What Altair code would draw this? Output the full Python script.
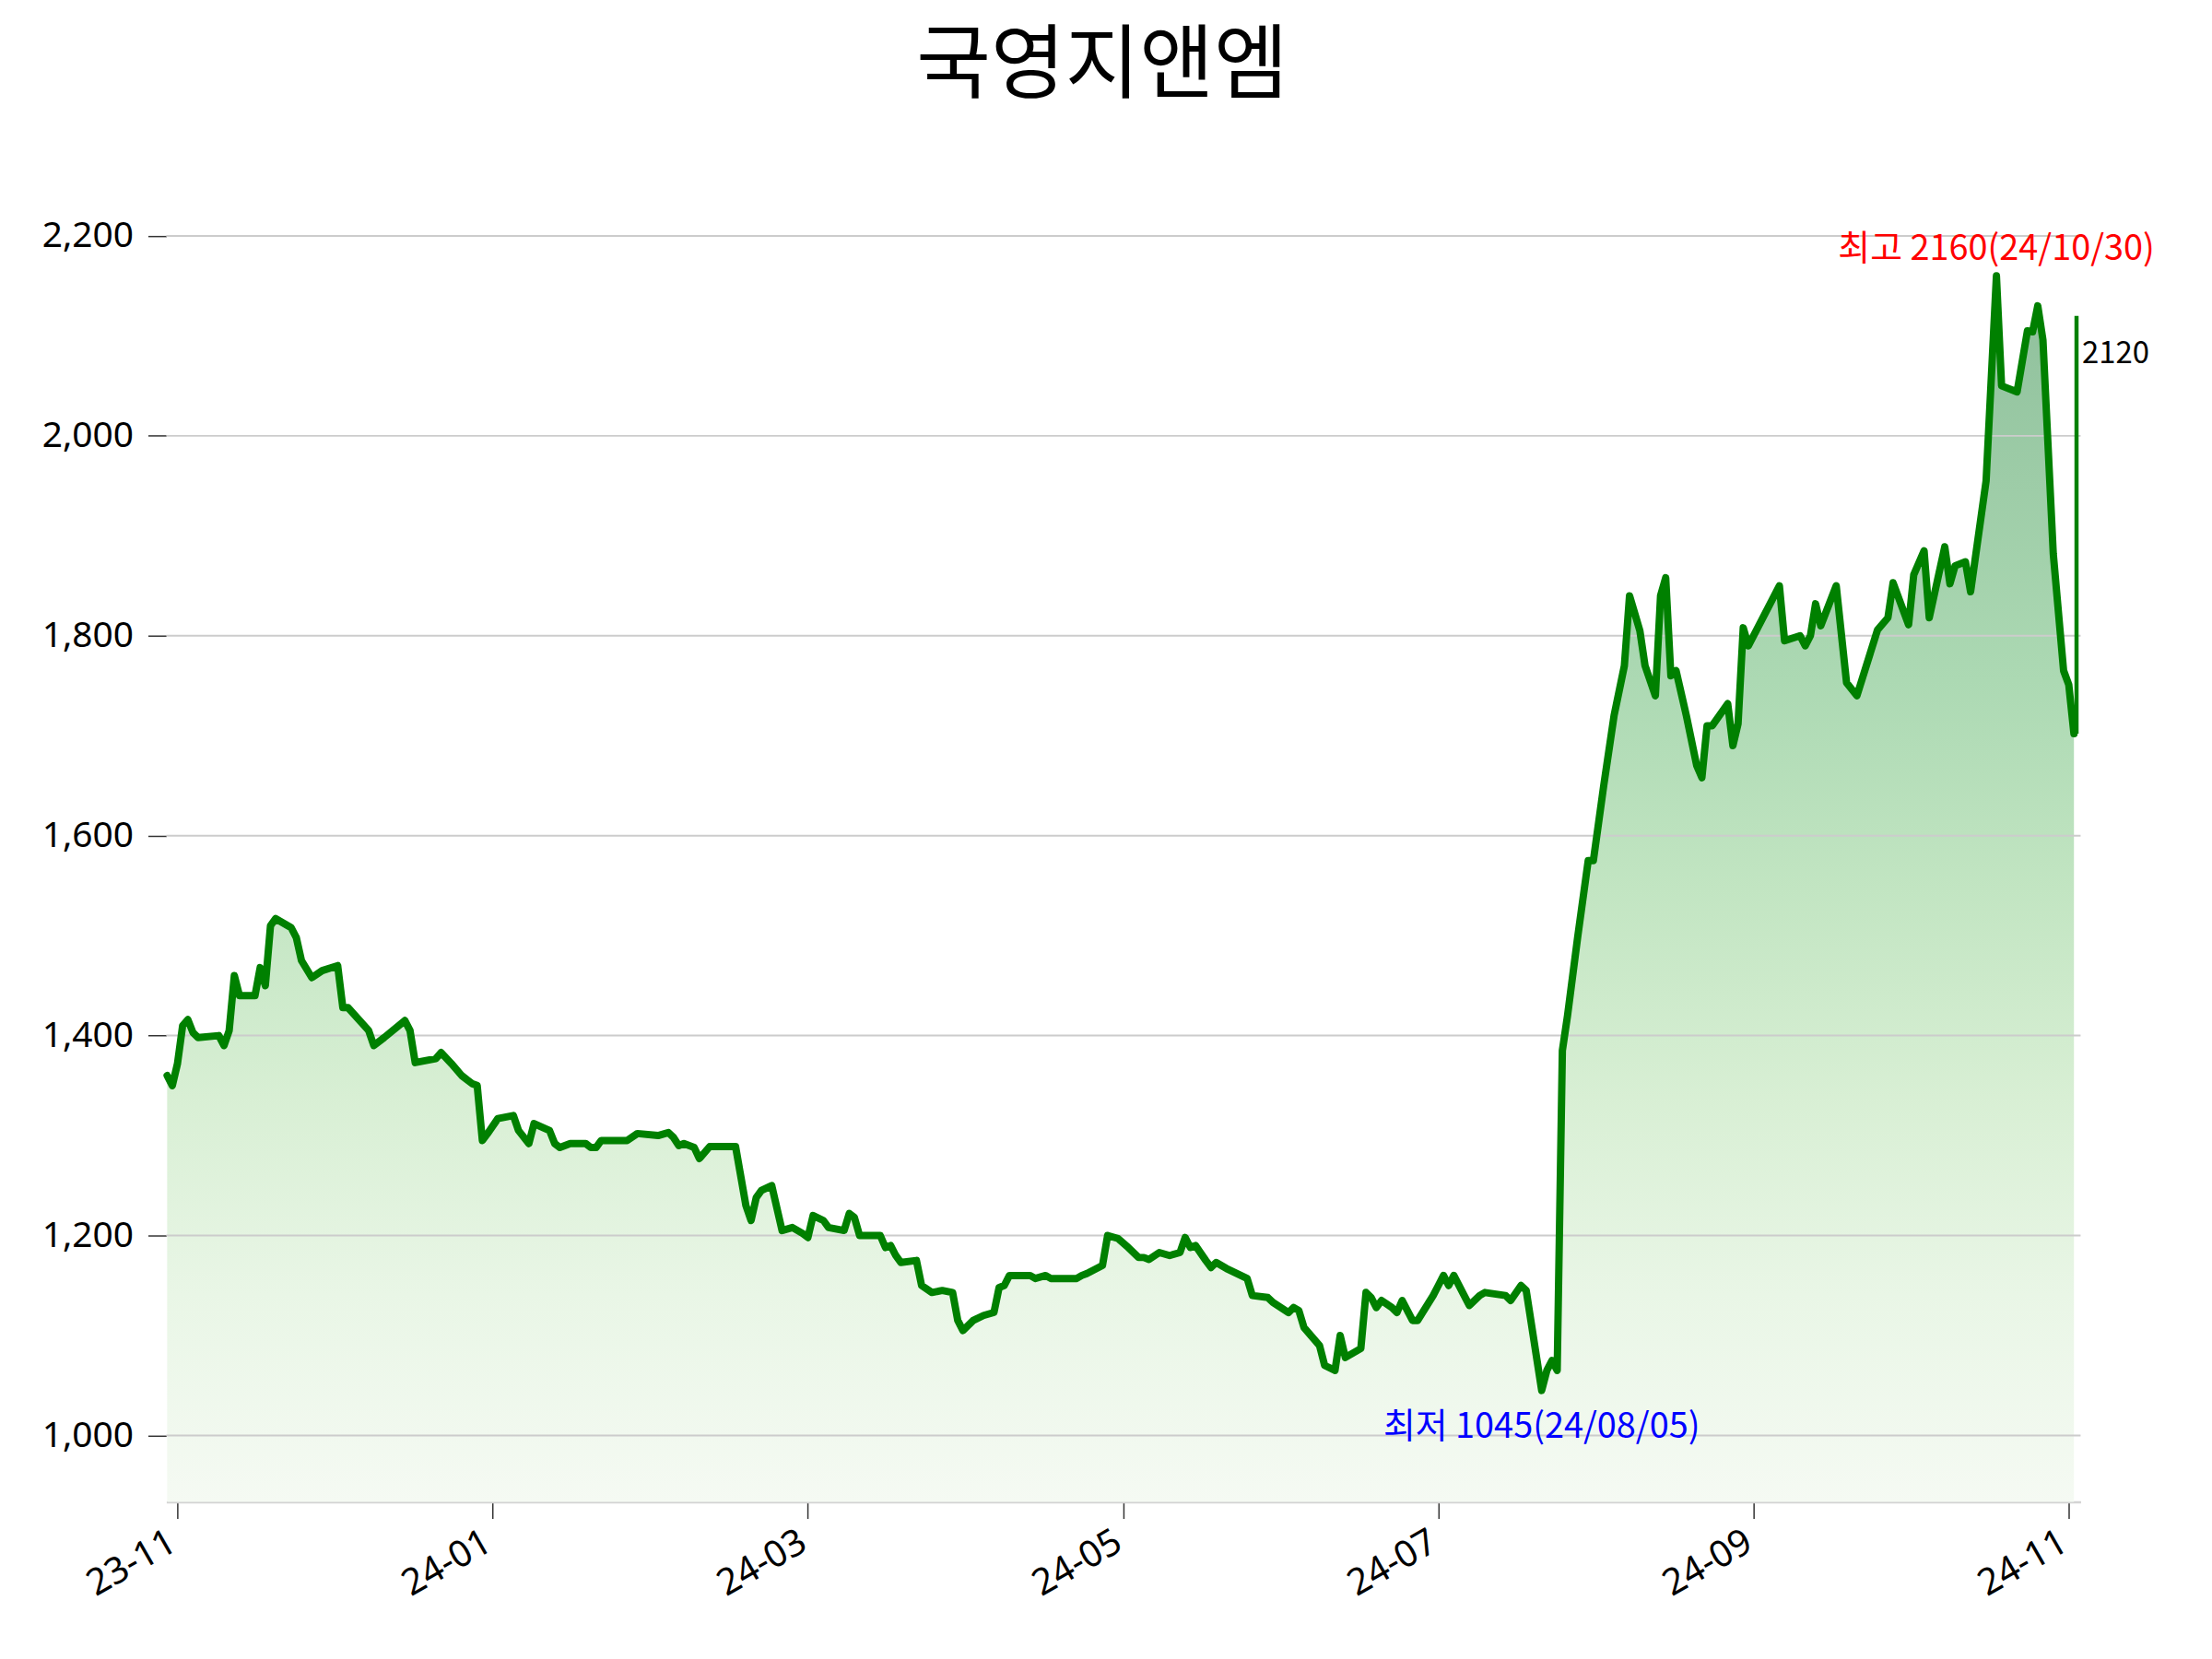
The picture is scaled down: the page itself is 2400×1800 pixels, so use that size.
import altair as alt
import pandas as pd

# ---- data ----
dates = [
    "2023-10-30", "2023-10-31", "2023-11-01", "2023-11-02", "2023-11-03", "2023-11-04", "2023-11-05",
    "2023-11-09", "2023-11-10", "2023-11-11", "2023-11-12", "2023-11-13", "2023-11-16", "2023-11-17",
    "2023-11-18", "2023-11-19", "2023-11-20", "2023-11-23", "2023-11-24", "2023-11-25", "2023-11-27",
    "2023-11-29", "2023-12-02", "2023-12-03", "2023-12-04", "2023-12-08", "2023-12-09", "2023-12-11",
    "2023-12-15", "2023-12-16", "2023-12-17", "2023-12-21", "2023-12-22", "2023-12-24", "2023-12-26",
    "2023-12-28", "2023-12-29", "2023-12-30", "2023-12-31", "2024-01-02", "2024-01-05", "2024-01-06",
    "2024-01-08", "2024-01-09", "2024-01-12", "2024-01-13", "2024-01-14", "2024-01-16", "2024-01-19",
    "2024-01-20", "2024-01-21", "2024-01-22", "2024-01-27", "2024-01-29", "2024-02-02", "2024-02-04",
    "2024-02-05", "2024-02-06", "2024-02-07", "2024-02-09", "2024-02-10", "2024-02-12", "2024-02-17",
    "2024-02-19", "2024-02-20", "2024-02-21", "2024-02-22", "2024-02-24", "2024-02-26", "2024-02-28",
    "2024-03-01", "2024-03-02", "2024-03-03", "2024-03-05", "2024-03-06", "2024-03-09", "2024-03-10",
    "2024-03-11", "2024-03-12", "2024-03-16", "2024-03-17", "2024-03-18", "2024-03-19", "2024-03-20",
    "2024-03-23", "2024-03-24", "2024-03-26", "2024-03-28", "2024-03-30", "2024-03-31", "2024-04-01",
    "2024-04-03", "2024-04-05", "2024-04-07", "2024-04-08", "2024-04-09", "2024-04-10", "2024-04-14",
    "2024-04-15", "2024-04-17", "2024-04-18", "2024-04-23", "2024-04-24", "2024-04-25", "2024-04-28",
    "2024-04-29", "2024-05-01", "2024-05-03", "2024-05-05", "2024-05-06", "2024-05-07", "2024-05-09",
    "2024-05-11", "2024-05-13", "2024-05-14", "2024-05-15", "2024-05-16", "2024-05-18", "2024-05-19",
    "2024-05-20", "2024-05-22", "2024-05-26", "2024-05-27", "2024-05-30", "2024-05-31", "2024-06-03",
    "2024-06-04", "2024-06-05", "2024-06-06", "2024-06-09", "2024-06-10", "2024-06-12", "2024-06-13",
    "2024-06-14", "2024-06-17", "2024-06-18", "2024-06-19", "2024-06-20", "2024-06-21", "2024-06-23",
    "2024-06-24", "2024-06-25", "2024-06-27", "2024-06-28", "2024-07-01", "2024-07-02", "2024-07-03",
    "2024-07-04", "2024-07-05", "2024-07-07", "2024-07-08", "2024-07-10", "2024-07-11", "2024-07-15",
    "2024-07-16", "2024-07-18", "2024-07-19", "2024-07-22", "2024-07-23", "2024-07-24", "2024-07-25",
    "2024-07-26", "2024-07-27", "2024-07-29", "2024-07-31", "2024-08-01", "2024-08-03", "2024-08-05",
    "2024-08-07", "2024-08-08", "2024-08-10", "2024-08-11", "2024-08-13", "2024-08-14", "2024-08-15",
    "2024-08-16", "2024-08-17", "2024-08-19", "2024-08-21", "2024-08-22", "2024-08-23", "2024-08-24",
    "2024-08-27", "2024-08-28", "2024-08-29", "2024-08-30", "2024-08-31", "2024-09-06", "2024-09-07",
    "2024-09-10", "2024-09-11", "2024-09-12", "2024-09-13", "2024-09-14", "2024-09-17", "2024-09-19",
    "2024-09-21", "2024-09-25", "2024-09-27", "2024-09-28", "2024-10-01", "2024-10-02", "2024-10-04",
    "2024-10-05", "2024-10-08", "2024-10-09", "2024-10-10", "2024-10-12", "2024-10-13", "2024-10-16",
    "2024-10-18", "2024-10-19", "2024-10-22", "2024-10-24", "2024-10-25", "2024-10-26", "2024-10-27",
    "2024-10-29", "2024-10-31", "2024-11-01", "2024-11-02",
]
prices = [
    1360, 1350, 1372, 1410, 1416, 1403, 1398,
    1400, 1390, 1405, 1460, 1440, 1440, 1468,
    1450, 1510, 1517, 1508, 1498, 1475, 1458,
    1465, 1470, 1428, 1428, 1405, 1390, 1398,
    1415, 1405, 1373, 1377, 1383, 1372, 1360,
    1352, 1350, 1295, 1302, 1317, 1320, 1305,
    1292, 1312, 1305, 1292, 1288, 1292, 1292,
    1288, 1288, 1295, 1295, 1302, 1300, 1303,
    1298, 1290, 1292, 1288, 1277, 1289, 1289,
    1230, 1215, 1238, 1245, 1250, 1205, 1208,
    1202, 1198, 1220, 1215, 1208, 1205, 1222,
    1218, 1200, 1200, 1188, 1190, 1180, 1173,
    1175, 1150, 1143, 1145, 1143, 1115, 1105,
    1115, 1120, 1123, 1148, 1150, 1160, 1160,
    1157, 1160, 1157, 1157, 1160, 1162, 1170,
    1200, 1197, 1188, 1178, 1178, 1176, 1183,
    1180, 1183, 1198, 1188, 1190, 1175, 1168,
    1173, 1167, 1157, 1140, 1138, 1133, 1123,
    1128, 1125, 1108, 1090, 1070, 1065, 1100,
    1078, 1087, 1143, 1138, 1128, 1135, 1128,
    1123, 1135, 1115, 1115, 1140, 1150, 1160,
    1150, 1160, 1140, 1130, 1140, 1143, 1140,
    1135, 1150, 1145, 1045, 1065, 1075, 1065,
    1385, 1420, 1500, 1575, 1575, 1650, 1720,
    1770, 1840, 1805, 1770, 1740, 1840, 1858,
    1760, 1765, 1720, 1670, 1658, 1710, 1710,
    1732, 1690, 1712, 1808, 1790, 1850, 1795,
    1800, 1790, 1800, 1832, 1810, 1850, 1753,
    1740, 1806, 1818, 1853, 1811, 1861, 1885,
    1818, 1889, 1852, 1870, 1874, 1844, 1955,
    2160, 2050, 2044, 2105, 2104, 2130, 2096,
    1882, 1765, 1751, 1702,
]
hi_label = "최고 2160(24/10/30)"
lo_label = "최저 1045(24/08/05)"
last_date = "2024-11-02 12:00"
last_from = 1702
last_price = 2120
y_ticks = [1000, 1200, 1400, 1600, 1800, 2000, 2200]
# tick positions as they sit on the reference axis (evenly spaced)
x_tick_dates = [(2023, 11, 1), (2024, 1, 1), (2024, 3, 2), (2024, 5, 2), (2024, 7, 2), (2024, 9, 1), (2024, 11, 1)]
title_text = "국영지앤엠"

df = pd.DataFrame({"date": pd.to_datetime(dates), "price": prices})
imax = df["price"].idxmax()
imin = df["price"].idxmin()
hi_df = pd.DataFrame({"date": [df.loc[imax, "date"]], "price": [df.loc[imax, "price"]], "label": [hi_label]})
lo_df = pd.DataFrame({"date": [df.loc[imin, "date"]], "price": [df.loc[imin, "price"]], "label": [lo_label]})
last_df = pd.DataFrame({"date": pd.to_datetime([last_date]), "lo": [last_from], "hi": [last_price],
                        "label": [str(last_price)]})
grid_df = pd.DataFrame({"v": y_ticks})

Y_MIN, Y_MAX = 933.5, 2271.5

x_scale = alt.Scale(domain=[alt.DateTime(year=2023, month=10, date=29, hours=20),
                            alt.DateTime(year=2024, month=11, date=3, hours=7)])
y_scale = alt.Scale(domain=[Y_MIN, Y_MAX], nice=False, zero=False)

x_axis = alt.Axis(
    values=[alt.DateTime(year=y, month=m, date=d) for y, m, d in x_tick_dates],
    format="%y-%m", labelAngle=-30, labelAlign="right", labelBaseline="top",
    labelFont="Noto Sans", labelFontSize=40, labelColor="black", labelPadding=5, labelOffset=-15,
    labelFlush=False, labelOverlap=False,
    tickSize=18, tickColor="#333333", tickWidth=1.5,
    domainColor="#d3d3d3", domainWidth=2.5, grid=False, title=None,
)
y_axis = alt.Axis(
    values=y_ticks, format=",d",
    labelFont="Noto Sans", labelFontSize=39, labelColor="black", labelPadding=16,
    tickSize=20, tickColor="#333333", tickWidth=1.5,
    domain=False, grid=False, title=None,
)

gradient = alt.Gradient(
    gradient="linear",
    stops=[
        alt.GradientStop(color="#8ebf9b", offset=0),
        alt.GradientStop(color="#acd9b3", offset=0.33),
        alt.GradientStop(color="#c2e5c2", offset=0.5),
        alt.GradientStop(color="#d8efd4", offset=0.67),
        alt.GradientStop(color="#e9f6e6", offset=0.83),
        alt.GradientStop(color="#f5faf3", offset=1),
    ],
    x1=0, x2=0, y1=0, y2=1,
)

area = alt.Chart(df).mark_area(color=gradient).encode(
    x=alt.X("date:T", scale=x_scale, axis=x_axis, title=None),
    y=alt.Y("price:Q", scale=y_scale, axis=y_axis, title=None),
    y2=alt.datum(Y_MIN),
)

grid = alt.Chart(grid_df).mark_rule(color="#cccccc", strokeWidth=2).encode(
    y=alt.Y("v:Q", title=None),
)

line = alt.Chart(df).mark_line(color="#008000", strokeWidth=8, strokeJoin="round", strokeCap="round").encode(
    x=alt.X("date:T", title=None),
    y=alt.Y("price:Q", title=None),
)

last_rule = alt.Chart(last_df).mark_rule(color="#008000", strokeWidth=4.5).encode(
    x=alt.X("date:T", title=None),
    y=alt.Y("lo:Q", title=None),
    y2="hi:Q",
)

last_text = alt.Chart(last_df).mark_text(
    align="left", baseline="alphabetic", dx=6, dy=51,
    font="Noto Sans CJK KR", fontSize=33, color="black",
).encode(x=alt.X("date:T", title=None), y=alt.Y("hi:Q", title=None), text="label:N")

hi_text = alt.Chart(hi_df).mark_text(
    align="center", baseline="alphabetic", dy=-17,
    font="Noto Sans CJK KR", fontSize=38, color="red",
).encode(x=alt.X("date:T", title=None), y=alt.Y("price:Q", title=None), text="label:N")

lo_text = alt.Chart(lo_df).mark_text(
    align="center", baseline="alphabetic", dy=52,
    font="Noto Sans CJK KR", fontSize=38, color="blue",
).encode(x=alt.X("date:T", title=None), y=alt.Y("price:Q", title=None), text="label:N")

chart = alt.layer(area, grid, line, last_rule, last_text, hi_text, lo_text).properties(
    width=2084,
    height=1456,
    padding={"left": 173, "top": 168, "right": 135, "bottom": 160},
    autosize=alt.AutoSizeParams(type="none"),
    title=alt.TitleParams(
        title_text, font="Noto Sans CJK KR", fontSize=88, fontWeight="normal",
        color="black", anchor="middle", dx=-23, offset=0, dy=8, baseline="alphabetic",
    ),
    background="white",
).configure_view(stroke=None).configure_axisX(
    labelFontSize=40, labelFont="Noto Sans", labelAngle=-30,
).configure_axisY(
    labelFontSize=39, labelFont="Noto Sans",
)

chart.save("out.html", embed_options={"renderer": "svg", "actions": False})
